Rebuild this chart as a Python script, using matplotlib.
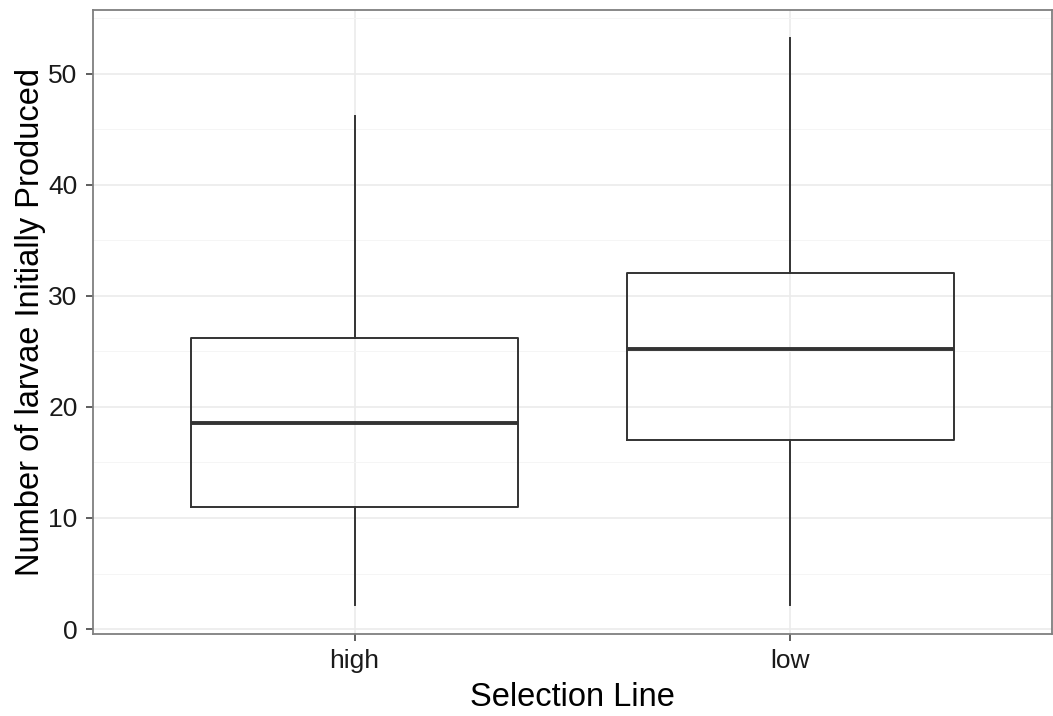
import matplotlib.pyplot as plt
from matplotlib.ticker import MultipleLocator

plt.rcParams['font.family'] = ['Liberation Sans', 'DejaVu Sans']

# Data
lines = ['high', 'low']
whisker_low = [2.2, 2.2]
q1 = [11.0, 17.0]
median = [18.6, 25.2]
q3 = [26.2, 32.1]
whisker_high = [46.2, 53.2]

stats = []
for i, name in enumerate(lines):
    stats.append({
        'label': name,
        'whislo': whisker_low[i],
        'q1': q1[i],
        'med': median[i],
        'q3': q3[i],
        'whishi': whisker_high[i],
        'fliers': [],
    })

fig = plt.figure(figsize=(10.53, 7.16), dpi=100)
ax = fig.add_axes([0.0883, 0.1145, 0.9107, 0.8715])

dark = '#333333'
ax.bxp(stats, positions=[1, 2], widths=0.75, showcaps=False,
       boxprops=dict(color=dark, linewidth=1.4),
       whiskerprops=dict(color=dark, linewidth=1.4),
       medianprops=dict(color=dark, linewidth=2.8),
       zorder=3)

ax.set_xlim(0.4, 2.6)
ax.set_ylim(-0.45, 55.75)
ax.yaxis.set_major_locator(MultipleLocator(10))
ax.yaxis.set_minor_locator(MultipleLocator(5))

ax.grid(which='major', color='#ebebeb', linewidth=1.2, zorder=0)
ax.grid(which='minor', axis='y', color='#f5f5f5', linewidth=0.7, zorder=0)
ax.set_axisbelow(True)

for s in ax.spines.values():
    s.set_color('#7f7f7f')
    s.set_linewidth(1.3)

ax.tick_params(which='major', length=5, color=dark, width=1.1, labelsize=19,
               labelcolor='#1a1a1a')
ax.tick_params(axis='x', pad=6)
ax.tick_params(axis='y', pad=6)
ax.tick_params(which='minor', length=0)

ax.set_xlabel('Selection Line', fontsize=23.5, color='black', labelpad=6)
ax.set_ylabel('Number of larvae Initially Produced', fontsize=23.5, color='black', labelpad=2)

fig.savefig('out.png', dpi=100)
